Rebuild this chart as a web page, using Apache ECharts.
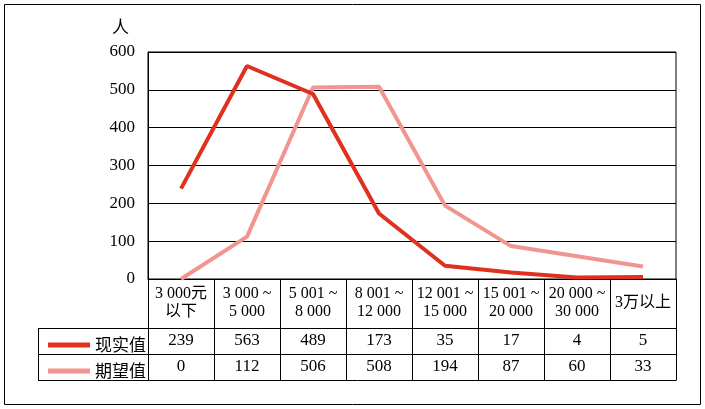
<!DOCTYPE html>
<html>
<head>
<meta charset="utf-8">
<script src="https://cdn.jsdelivr.net/npm/echarts@6/dist/echarts.min.js"></script>
<style>html,body{margin:0;padding:0;background:#fff}#c{width:705px;height:409px}</style>
</head>
<body>
<div id="c"></div>
<script>
const categories = ["3 000元\n以下", "3 000 ~\n5 000", "5 001 ~\n8 000", "8 001 ~\n12 000", "12 001 ~\n15 000", "15 001 ~\n20 000", "20 000 ~\n30 000", "3万以上"];
const actualValues = [239, 563, 489, 173, 35, 17, 4, 5];
const expectedValues = [0, 112, 506, 508, 194, 87, 60, 33];
const seriesNames = ["现实值", "期望值"];
const yTicks = [0, 100, 200, 300, 400, 500, 600];

const FONT = "'Liberation Serif', 'Noto Sans CJK SC', serif";
const W = 705, H = 409;
const G = {left: 148, right: 29, top: 52, bottom: 130};
const rowLabelH = 49, rowH = 26, tableLeft = 38;
const axisY = H - G.bottom;

const chart = echarts.init(document.getElementById('c'), null, {renderer: 'canvas'});

const valueAxis = (data, margin) => ({
  type: 'category', gridIndex: 0, position: 'bottom', data: data.map(String),
  boundaryGap: true,
  axisLine: {show: false}, axisTick: {show: false}, splitLine: {show: false},
  axisLabel: {interval: 0, margin: margin, verticalAlign: 'middle', fontFamily: FONT, fontSize: 17, color: '#000'}
});

const option = {
  backgroundColor: '#fff',
  animation: false,
  grid: {left: G.left, right: G.right, top: G.top, bottom: G.bottom, show: true, borderColor: '#000', borderWidth: 1, containLabel: false},
  legend: {
    orient: 'vertical', left: 43, top: axisY + rowLabelH - 1, itemGap: 0,
    icon: 'rect', itemWidth: 42, itemHeight: 5,
    data: seriesNames,
    textStyle: {fontFamily: "'Noto Sans CJK SC', sans-serif", fontSize: 17, color: '#000', lineHeight: rowH},
    selectedMode: false
  },
  xAxis: [
    {
      type: 'category', gridIndex: 0, position: 'bottom', data: categories, boundaryGap: true,
      axisLine: {show: true, lineStyle: {color: '#000', width: 1}},
      axisTick: {show: true, interval: 0, length: rowLabelH + 2 * rowH, lineStyle: {color: '#000', width: 1}},
      axisLabel: {interval: 0, margin: 24, verticalAlign: 'middle', lineHeight: 18, fontFamily: FONT, fontSize: 16, color: '#000'}
    },
    valueAxis(actualValues, rowLabelH + rowH / 2),
    valueAxis(expectedValues, rowLabelH + rowH + rowH / 2)
  ],
  yAxis: {
    type: 'value', min: yTicks[0], max: yTicks[yTicks.length - 1], interval: 100,
    name: '人', nameLocation: 'end', nameGap: 17,
    nameTextStyle: {fontFamily: "'Noto Sans CJK SC', sans-serif", fontSize: 17, color: '#000', align: 'right', padding: [0, 19, 0, 0]},
    axisLine: {show: true, lineStyle: {color: '#000'}},
    axisTick: {show: false},
    axisLabel: {margin: 13, fontFamily: FONT, fontSize: 17, color: '#000'},
    splitLine: {show: true, lineStyle: {color: '#000', width: 1}}
  },
  series: [
    {name: seriesNames[0], type: 'line', data: actualValues, color: '#e0301e', symbol: 'none', lineStyle: {width: 4, color: '#e0301e'}, z: 3},
    {name: seriesNames[1], type: 'line', data: expectedValues, color: '#f0958f', symbol: 'none', lineStyle: {width: 4, color: '#f0958f'}, z: 2}
  ],
  graphic: [
    {type: 'rect', shape: {x: 4.5, y: 4.5, width: W - 9, height: H - 9}, style: {fill: null, stroke: '#000', lineWidth: 1}, silent: true},
    {type: 'line', shape: {x1: tableLeft, y1: axisY + rowLabelH + 0.5, x2: W - G.right, y2: axisY + rowLabelH + 0.5}, style: {stroke: '#000', lineWidth: 1}},
    {type: 'line', shape: {x1: tableLeft, y1: axisY + rowLabelH + rowH + 0.5, x2: W - G.right, y2: axisY + rowLabelH + rowH + 0.5}, style: {stroke: '#000', lineWidth: 1}},
    {type: 'line', shape: {x1: tableLeft, y1: axisY + rowLabelH + 2 * rowH + 0.5, x2: W - G.right + 0.5, y2: axisY + rowLabelH + 2 * rowH + 0.5}, style: {stroke: '#000', lineWidth: 1}},
    {type: 'line', shape: {x1: tableLeft + 0.5, y1: axisY + rowLabelH, x2: tableLeft + 0.5, y2: axisY + rowLabelH + 2 * rowH + 0.5}, style: {stroke: '#000', lineWidth: 1}}
  ]
};
chart.setOption(option);
</script>
</body>
</html>
